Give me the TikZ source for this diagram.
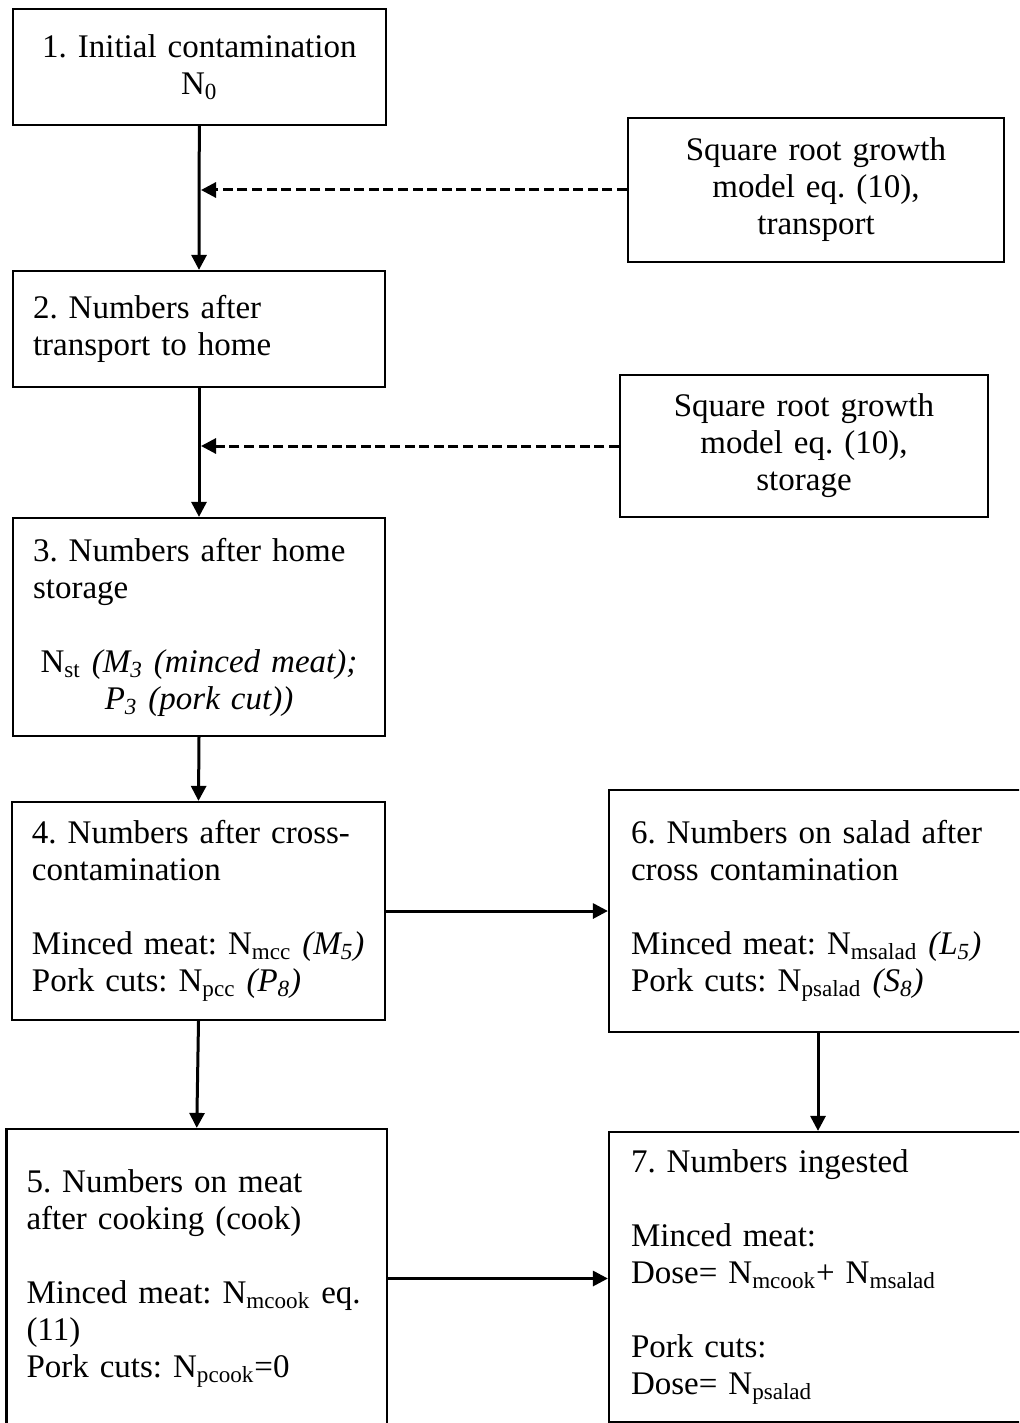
\documentclass[tikz,border=0pt]{standalone}
\usepackage{fontspec}
\setmainfont{Liberation Serif}
\usetikzlibrary{arrows.meta}
\setlength{\parindent}{0pt}
\frenchspacing
\begin{document}
\begin{tikzpicture}[x=0.5pt,y=-0.5pt,
  box/.style={draw, line width=1.1pt, rectangle, inner xsep=10pt, inner ysep=0pt,
    font=\fontsize{16.5}{18.5}\selectfont\frenchspacing},
  lbox/.style={box, align=left},
  cbox/.style={box, align=center},
  arr/.style={line width=1.5pt, -{Triangle[length=7.5pt,width=7.5pt]}},
  darr/.style={arr, dash pattern=on 5pt off 2.3pt}]
\useasboundingbox (0,0) rectangle (1019,1423);
\clip (0,0) rectangle (1019,1423);

\node[cbox, minimum width=186.5pt, minimum height=58pt, text width=166.5pt] (b1) at (199.3,67)
  {1. Initial contamination\\N\textsubscript{0}};
\node[cbox, minimum width=188pt, minimum height=72pt, text width=168pt] (r1) at (816,190)
  {Square root growth\\model eq. (10),\\transport};
\node[lbox, minimum width=186pt, minimum height=58pt, text width=166pt] (b2) at (199,329)
  {2. Numbers after\\transport to home};
\node[cbox, minimum width=184pt, minimum height=71pt, text width=164pt] (r2) at (804,446)
  {Square root growth\\model eq. (10),\\storage};
\node[lbox, minimum width=186pt, minimum height=109pt, text width=166pt] (b3) at (199,627)
  {\mbox{3. Numbers after home}\\storage\par\vspace{18.5pt}%
   {\centering \mbox{N\textsubscript{st} \textit{(M\textsubscript{3} (minced meat);}}\\\textit{P\textsubscript{3} (pork cut))}\par}};
\node[lbox, minimum width=186.5pt, minimum height=109pt, text width=166.5pt] (b4) at (198.5,911)
  {\mbox{4. Numbers after cross-}\\contamination\\[18.5pt]\mbox{Minced meat: N\textsubscript{mcc} \textit{(M\textsubscript{5})}}\\Pork cuts: N\textsubscript{pcc} \textit{(P\textsubscript{8})}};
\node[lbox, minimum width=190.25pt, minimum height=149.5pt, text width=170.25pt] (b5) at (196.75,1278.5)
  {5. Numbers on meat\\after cooking (cook)\\[18.5pt]\mbox{Minced meat: N\textsubscript{mcook} eq.}\\(11)\\Pork cuts: N\textsubscript{pcook}=0};
\node[lbox, inner xsep=11pt, minimum width=209pt, minimum height=121pt, text width=187pt] (b6) at (818,911)
  {\mbox{6. Numbers on salad after}\\cross contamination\\[18.5pt]\mbox{Minced meat: N\textsubscript{msalad} \textit{(L\textsubscript{5})}}\\Pork cuts: N\textsubscript{psalad} \textit{(S\textsubscript{8})}};
\node[lbox, inner xsep=11pt, minimum width=209pt, minimum height=145pt, text width=187pt] (b7) at (818,1277)
  {7. Numbers ingested\\[18.5pt]Minced meat:\\Dose= N\textsubscript{mcook}+ N\textsubscript{msalad}\\[18.5pt]Pork cuts:\\Dose= N\textsubscript{psalad}};

\coordinate (t1) at (201,190);
\coordinate (t2) at (201,446);

\draw[arr] (b1.south) -- (b2.north);
\draw[darr] (r1.west) -- (t1);
\draw[arr] (b2.south) -- (b3.north);
\draw[darr] (r2.west) -- (t2);
\draw[arr] (b3.south) -- (b4.north);
\draw[arr] (b4.east) -- (b4.east -| b6.west);
\draw[arr] (b4.south) -- (b5.north);
\draw[arr] (b6.south) -- (b7.north);
\draw[arr] (b5.east) -- (b5.east -| b7.west);
\end{tikzpicture}
\end{document}
